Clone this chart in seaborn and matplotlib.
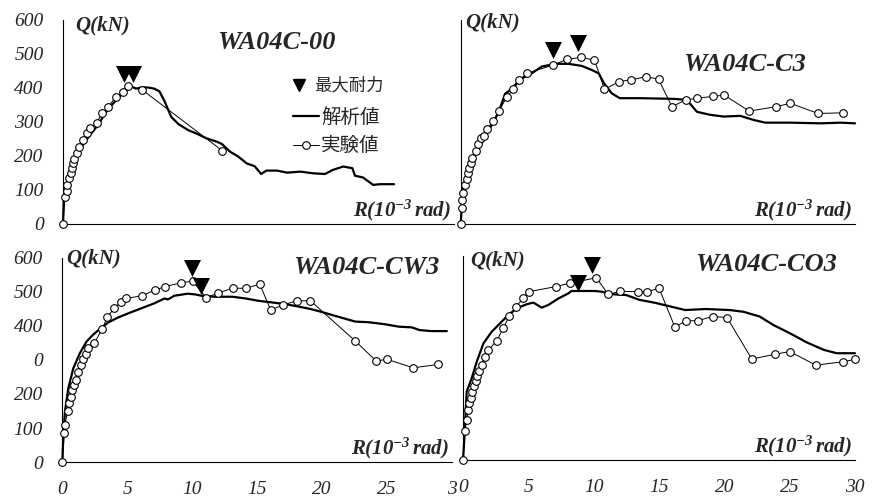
import numpy as np
import pandas as pd
import seaborn as sns
import matplotlib.pyplot as plt
from matplotlib.lines import Line2D

sns.set_style('white')
plt.rcParams['font.family'] = ['Liberation Serif', 'DejaVu Sans']
plt.rcParams['font.style'] = 'italic'
plt.rcParams['mathtext.fontset'] = 'custom'
plt.rcParams['mathtext.rm'] = 'Liberation Serif:italic:bold'
plt.rcParams['mathtext.it'] = 'Liberation Serif:italic:bold'

# --- data (R in 10^-3 rad, Q in kN) ---
names = ['WA04C-00', 'WA04C-C3', 'WA04C-CW3', 'WA04C-CO3']

# WA04C-00
tl_exp_x = [0, 0.15, 0.28, 0.33, 0.46, 0.61, 0.66, 0.79, 0.87, 1.05, 1.23, 1.56, 1.82, 2.07,
            2.58, 2.97, 3.48, 4.04, 4.63, 5.01, 6.09, 12.2]
tl_exp_y = [0, 80, 98, 115, 134, 151, 164, 178, 190, 208, 227, 247, 267, 281,
            296, 325, 345, 373, 389, 406, 394, 216]
tl_ana_x = [0, 0.05, 0.15, 0.28, 0.54, 0.79, 1.18, 1.69, 2.2, 2.71, 3.22, 3.73, 4.25, 4.76,
            5.27, 5.6, 6.1, 6.6, 7.0, 7.4, 7.8, 8.3, 8.85, 9.6, 10.3, 11.0, 11.8, 12.2,
            12.8, 13.45, 14.1, 14.7, 15.2, 15.6, 16.4, 17.2, 18.2, 19.2, 20.1, 20.7,
            21.5, 22.2, 22.4, 23.0, 23.8, 24.3, 25.4]
tl_ana_y = [0, 70, 85, 118, 150, 183, 213, 242, 268, 292, 325, 350, 370, 392,
            404, 398, 402, 401, 398, 390, 360, 315, 294, 276, 265, 252, 242, 235,
            213, 198, 178, 170, 147, 157, 157, 151, 154, 149, 147, 159,
            169, 164, 142, 137, 115, 117, 117]
tl_max_x = [4.7, 5.4]
tl_max_y = [441, 441]

# WA04C-C3
tr_exp_x = [0, 0.08, 0.13, 0.2, 0.33, 0.46, 0.53, 0.66, 0.79, 0.89, 1.14, 1.35, 1.55, 1.8,
            1.98, 2.49, 2.92, 3.5, 4.01, 4.47, 5.03, 7.06, 8.07, 9.16, 10.18, 10.94,
            12.08, 12.94, 14.1, 15.05, 16.07, 17.13, 18.0, 19.16, 20.05, 21.95, 23.98,
            25.08, 27.18, 29.06]
tr_exp_y = [0, 46, 71, 92, 115, 131, 149, 164, 178, 193, 216, 235, 252, 259,
            278, 304, 333, 373, 396, 422, 443, 468, 484, 490, 482, 396,
            419, 424, 433, 426, 345, 365, 370, 375, 379, 332, 345,
            355, 325, 327]
tr_ana_x = [0, 0.08, 0.2, 0.46, 0.84, 1.35, 1.85, 2.36, 2.87, 3.38, 3.6, 4.14, 4.65, 5.4,
            6.17, 7.18, 8.2, 9.2, 9.97, 10.5, 10.9, 11.5, 12.1, 13.65, 16.2, 17.2, 17.97,
            18.98, 20.0, 21.27, 22.28, 23.17, 25.08, 27.36, 28.9, 30.0]
tr_ana_y = [0, 51, 110, 149, 188, 218, 257, 291, 327, 383, 389, 409, 428, 443,
            463, 471, 471, 465, 453, 443, 414, 384, 370, 370, 368, 365, 330,
            321, 316, 318, 306, 298, 298, 296, 298, 296]
tr_max_x = [7.0, 8.9]
tr_max_y = [512, 532]

# WA04C-CW3
bl_exp_x = [0, 0.15, 0.2, 0.41, 0.51, 0.64, 0.77, 0.89, 1.02, 1.17, 1.43, 1.61, 1.79, 1.99,
            2.45, 3.07, 3.47, 3.98, 4.5, 4.93, 6.13, 7.15, 7.92, 9.14, 10.04, 11.06, 12.0,
            13.1, 14.12, 15.2, 16.04, 17.0, 18.03, 19.1, 22.55, 24.16, 24.98, 27.02, 28.94]
bl_exp_y = [0, 86, 109, 151, 175, 192, 212, 225, 241, 264, 285, 302, 318, 334,
            349, 391, 427, 452, 470, 481, 489, 506, 516, 527, 532, 483, 497,
            511, 511, 523, 447, 462, 474, 474, 356, 297, 302, 277, 287]
bl_ana_x = [0, 0.08, 0.2, 0.46, 0.84, 1.35, 1.86, 2.38, 3.01, 3.52, 4.29, 5.06, 6.08, 7.1,
            7.87, 8.12, 8.63, 9.65, 10.2, 10.7, 11.7, 13.1, 14.1, 15.1, 16.2, 17.2, 18.2,
            19.1, 19.9, 20.8, 21.8, 22.55, 23.6, 24.85, 25.9, 26.9, 27.5, 28.4, 29.6]
bl_ana_y = [0, 79, 148, 217, 275, 320, 354, 375, 395, 410, 425, 437, 452, 467,
            481, 478, 489, 495, 493, 489, 486, 486, 481, 474, 469, 464, 457,
            450, 442, 432, 421, 413, 411, 405, 398, 396, 388, 385, 385]
bl_max_x = [10.0, 10.7]
bl_max_y = [571, 519]

# WA04C-CO3
br_exp_x = [0, 0.15, 0.28, 0.41, 0.48, 0.59, 0.71, 0.84, 0.97, 1.1, 1.25, 1.43, 1.68, 1.94,
            2.58, 3.09, 3.55, 4.03, 4.62, 5.05, 7.1, 8.2, 10.2, 11.12, 12.0, 13.4, 14.1,
            15.0, 16.2, 17.1, 18.0, 19.1, 20.2, 22.1, 23.9, 25.0, 27.0, 29.1, 30.0]
br_exp_y = [0, 86, 118, 147, 167, 183, 201, 218, 232, 248, 262, 279, 304, 324,
            350, 389, 424, 449, 477, 495, 510, 520, 536, 487, 496, 495, 495,
            505, 392, 409, 410, 422, 419, 297, 311, 319, 279, 289, 296]
br_ana_x = [0, 0.1, 0.28, 0.66, 1.05, 1.56, 2.19, 2.96, 3.6, 4.23, 4.87, 5.38, 6.02, 6.53,
            7.3, 8.06, 8.3, 10.1, 10.6, 11.6, 12.5, 13.5, 14.6, 15.6, 17.0, 18.6, 20.4,
            21.45, 22.7, 23.75, 25.0, 26.3, 27.6, 28.6, 30.0]
br_ana_y = [0, 64, 201, 240, 289, 343, 377, 407, 431, 448, 458, 463, 448, 456,
            475, 490, 497, 497, 495, 487, 485, 471, 463, 454, 441, 444, 441,
            436, 422, 397, 373, 346, 324, 314, 314]
br_max_x = [8.8, 9.9]
br_max_y = [520, 573]

x_ticks = [0, 5, 10, 15, 20, 25, 30]
y_ticks = [0, 100, 200, 300, 400, 500, 600]
tl_yticklabels = ['0', '100', '200', '300', '400', '500', '600']
bl_yticklabels = ['0', '100', '200', '0', '400', '500', '600']
bl_xticklabels = ['0', '5', '10', '15', '20', '25', '3']
br_xticklabels = ['0', '5', '10', '15', '20', '25', '30']

exps = [(tl_exp_x, tl_exp_y), (tr_exp_x, tr_exp_y), (bl_exp_x, bl_exp_y), (br_exp_x, br_exp_y)]
anas = [(tl_ana_x, tl_ana_y), (tr_ana_x, tr_ana_y), (bl_ana_x, bl_ana_y), (br_ana_x, br_ana_y)]
maxs = [(tl_max_x, tl_max_y), (tr_max_x, tr_max_y), (bl_max_x, bl_max_y), (br_max_x, br_max_y)]

# axes rectangles (figure fraction)
rects = [[0.0722, 0.5547, 0.4479, 0.4056],
         [0.5277, 0.5547, 0.4517, 0.4056],
         [0.0714, 0.0815, 0.4464, 0.4056],
         [0.5304, 0.0855, 0.4490, 0.4056]]
title_pos = [(16.4, 534), (21.6, 468), (23.4, 572), (23.2, 574)]
q_pos = [(0.9, 585), (0.33, 593), (0.34, 599), (0.54, 588)]

fig = plt.figure(figsize=(8.73, 5.03), dpi=100)
bi = dict(family='Liberation Serif', style='italic', weight='bold')

for i in range(4):
    ax = fig.add_axes(rects[i])
    ex, ey = exps[i]
    axx, axy = anas[i]
    mx, my = maxs[i]
    sns.lineplot(x=axx, y=axy, ax=ax, sort=False, estimator=None, color='black',
                 lw=1.6, clip_on=False, zorder=3)
    sns.lineplot(x=ex, y=ey, ax=ax, sort=False, estimator=None, color='black',
                 lw=0.7, marker='o', ms=5.5, mfc='white', mec='black', mew=0.8,
                 clip_on=False, zorder=4)
    sns.scatterplot(x=mx, y=my, ax=ax, marker='v', s=150, color='black',
                    linewidth=0, clip_on=False, zorder=5)
    ax.set_xlim(0, 30)
    ax.set_ylim(0, 600)
    ax.set_xticks(x_ticks)
    ax.set_yticks(y_ticks)
    for s in ['top', 'right']:
        ax.spines[s].set_visible(False)
    for s in ['left', 'bottom']:
        ax.spines[s].set_linewidth(0.8)
        ax.spines[s].set_color('black')
    ax.tick_params(direction='in', length=4, width=0.8, color='black', pad=14,
                   labelsize=14)
    if i == 0:
        ax.set_yticklabels(tl_yticklabels, fontstyle='italic')
    elif i == 2:
        ax.set_yticklabels(bl_yticklabels, fontstyle='italic')
    else:
        ax.set_yticklabels([])
    if i == 2:
        ax.set_xticklabels(bl_xticklabels, fontstyle='italic')
    elif i == 3:
        ax.set_xticklabels(br_xticklabels, fontstyle='italic')
    else:
        ax.set_xticklabels([])
    ax.set_xlabel('')
    ax.set_ylabel('')
    ax.text(title_pos[i][0], title_pos[i][1], names[i], ha='center', va='center',
            fontsize=19, **bi)
    ax.text(q_pos[i][0], q_pos[i][1], 'Q(kN)', ha='left', va='center', fontsize=15, **bi)
    ax.text(29.8, 40, r'$R(10^{-3}\,rad)$', ha='right', va='center', fontsize=15)

    if i == 0:
        cjk = ['Noto Sans CJK JP', 'DejaVu Sans']
        h1 = Line2D([], [], ls='none', marker='v', ms=8.5, color='black')
        leg1 = ax.legend([h1], ['最大耐力'], loc='center left', bbox_to_anchor=(0.588, 0.678),
                         frameon=False, borderpad=0, borderaxespad=0, handlelength=0.72,
                         handletextpad=0.48,
                         prop={'family': cjk, 'size': 12.5, 'style': 'normal'})
        ax.add_artist(leg1)
        h2 = Line2D([], [], color='black', lw=1.6)
        h3 = Line2D([], [], color='black', lw=0.7, marker='o', ms=5.5, mfc='white', mew=0.8)
        ax.legend([h2, h3], ['解析値', '実験値'], loc='center left',
                  bbox_to_anchor=(0.588, 0.4527), frameon=False, borderpad=0,
                  borderaxespad=0, handlelength=1.34, handletextpad=0.12,
                  labelspacing=0.38, prop={'family': cjk, 'size': 14, 'style': 'normal'})

fig.savefig('out.png', dpi=100)
